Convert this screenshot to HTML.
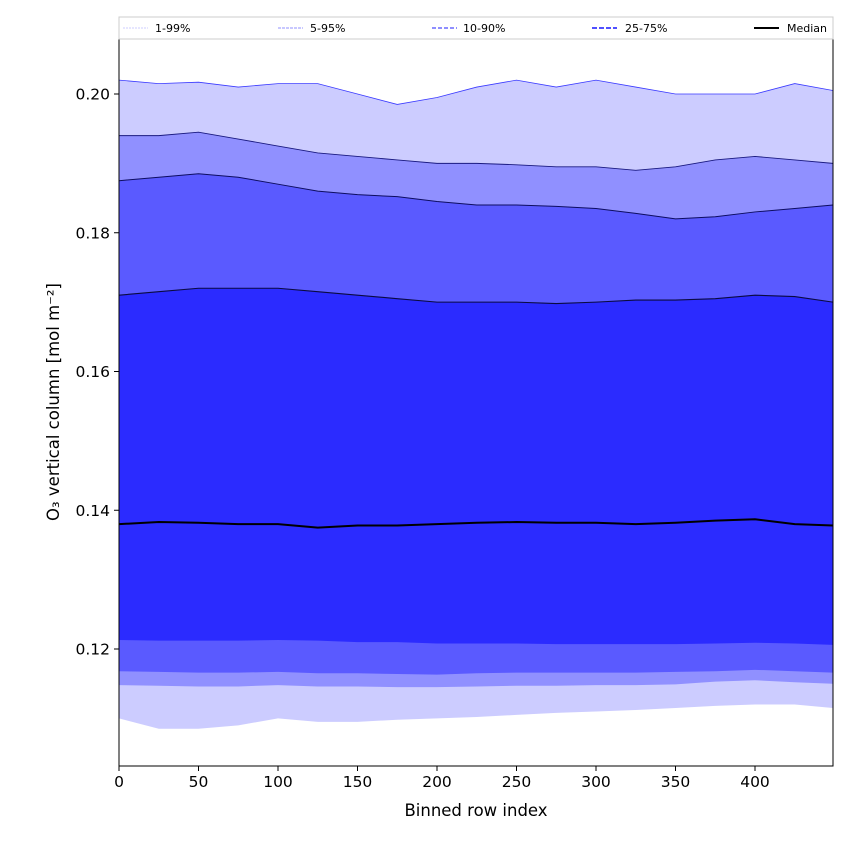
<!DOCTYPE html>
<html><head><meta charset="utf-8"><style>body{margin:0;background:#fff}svg{display:block;font-family:"DejaVu Sans","Liberation Sans",sans-serif}</style></head>
<body>
<svg id="chart" width="850" height="850"></svg>
<script>
const xs=[0,25,50,75,100,125,150,175,200,225,250,275,300,325,350,375,400,425,449];
const p99=[0.202,0.2015,0.2017,0.201,0.2015,0.2015,0.2,0.1985,0.1995,0.201,0.202,0.201,0.202,0.201,0.2,0.2,0.2,0.2015,0.2005];
const p95=[0.194,0.194,0.1945,0.1935,0.1925,0.1915,0.191,0.1905,0.19,0.19,0.1898,0.1895,0.1895,0.189,0.1895,0.1905,0.191,0.1905,0.19];
const p90=[0.1875,0.188,0.1885,0.188,0.187,0.186,0.1855,0.1852,0.1845,0.184,0.184,0.1838,0.1835,0.1828,0.182,0.1823,0.183,0.1835,0.184];
const p75=[0.171,0.1715,0.172,0.172,0.172,0.1715,0.171,0.1705,0.17,0.17,0.17,0.1698,0.17,0.1703,0.1703,0.1705,0.171,0.1708,0.17];
const p50=[0.138,0.1383,0.1382,0.138,0.138,0.1375,0.1378,0.1378,0.138,0.1382,0.1383,0.1382,0.1382,0.138,0.1382,0.1385,0.1387,0.138,0.1378];
const p25=[0.1213,0.1212,0.1212,0.1212,0.1213,0.1212,0.121,0.121,0.1208,0.1208,0.1208,0.1207,0.1207,0.1207,0.1207,0.1208,0.1209,0.1208,0.1206];
const p10=[0.1168,0.1167,0.1166,0.1166,0.1167,0.1165,0.1165,0.1164,0.1163,0.1165,0.1166,0.1166,0.1166,0.1166,0.1167,0.1168,0.117,0.1168,0.1166];
const p5=[0.1148,0.1147,0.1146,0.1146,0.1148,0.1146,0.1146,0.1145,0.1145,0.1146,0.1147,0.1147,0.1148,0.1148,0.1149,0.1153,0.1155,0.1152,0.115];
const p1=[0.110,0.1085,0.1085,0.109,0.110,0.1095,0.1095,0.1098,0.110,0.1102,0.1105,0.1108,0.111,0.1112,0.1115,0.1118,0.112,0.112,0.1115];
const xTicks=[0,50,100,150,200,250,300,350,400];
const yTicks=[0.12,0.14,0.16,0.18,0.20];
const L=119,R=833,T=39,B=766;
const X=v=>L+(v-0)*(755-119)/400;
const Y=v=>94+(0.20-v)*6937.5;
const svg=document.getElementById('chart');
const NS='http://www.w3.org/2000/svg';
function mk(t,a,p){const e=document.createElementNS(NS,t);for(const k in a)e.setAttribute(k,a[k]);(p||svg).appendChild(e);return e;}
const clip=mk('clipPath',{id:'c'});mk('rect',{x:L,y:T,width:R-L,height:B-T},clip);
const g=mk('g',{'clip-path':'url(#c)'});
function band(lo,hi,fill,name){const pts=xs.map((x,i)=>X(x)+','+Y(hi[i])).concat(xs.map((x,i)=>X(x)+','+Y(lo[i])).reverse());
const e=mk('polygon',{points:pts.join(' '),fill:fill},g);}
function line(arr,stroke,w,name){const e=mk('polyline',{points:xs.map((x,i)=>X(x)+','+Y(arr[i])).join(' '),fill:'none',stroke:stroke,'stroke-width':w},g);}
band(p1,p99,'#ccccff','band-1-99');
band(p5,p95,'#9090ff','band-5-95');
band(p10,p90,'#5a5aff','band-10-90');
band(p25,p75,'#2b2bff','band-25-75');
line(p99,'#3a3aff',0.8,'line-p99');
line(p95,'#1a1a80',0.9,'line-p95');
line(p90,'#0d0d60',1,'line-p90');
line(p75,'#0a0a40',1.1,'line-p75');
line(p50,'#000',2,'median-line');
mk('rect',{x:L,y:T,width:R-L,height:B-T,fill:'none',stroke:'#000','stroke-width':1});
xTicks.forEach(v=>{mk('line',{x1:X(v),x2:X(v),y1:B,y2:B+5,stroke:'#000'});const t=mk('text',{x:X(v),y:B+21,'text-anchor':'middle','font-size':15.5});t.textContent=v;});
yTicks.forEach(v=>{mk('line',{x1:L-5,x2:L,y1:Y(v),y2:Y(v),stroke:'#000'});const t=mk('text',{x:L-9,y:Y(v)+5.5,'text-anchor':'end','font-size':15.5});t.textContent=v.toFixed(2);});
</script>
<svg width="850" height="850" style="position:absolute;left:0;top:0">
<text x="476" y="816" text-anchor="middle" font-size="16.5">Binned row index</text>
<text transform="translate(59,402) rotate(-90)" text-anchor="middle" font-size="16.5">O₃ vertical column [mol m⁻²]</text>
<g font-size="11">
<rect x="119" y="17" width="714" height="22" fill="#fff" stroke="#ccc" stroke-width="1"/>
<line x1="123" y1="28" x2="148" y2="28" stroke="#ccccff" stroke-width="1" stroke-dasharray="2,1"/><text x="155" y="32">1-99%</text>
<line x1="278" y1="28" x2="303" y2="28" stroke="#9090ff" stroke-width="1" stroke-dasharray="3,1"/><text x="310" y="32">5-95%</text>
<line x1="432" y1="28" x2="457" y2="28" stroke="#6a6aff" stroke-width="1.5" stroke-dasharray="4,2"/><text x="463" y="32">10-90%</text>
<line x1="592" y1="28" x2="617" y2="28" stroke="#5050ff" stroke-width="2" stroke-dasharray="5,2"/><text x="625" y="32">25-75%</text>
<line x1="754" y1="28" x2="779" y2="28" stroke="#000" stroke-width="2"/><text x="787" y="32">Median</text>
</g>
</svg>
</body></html>
